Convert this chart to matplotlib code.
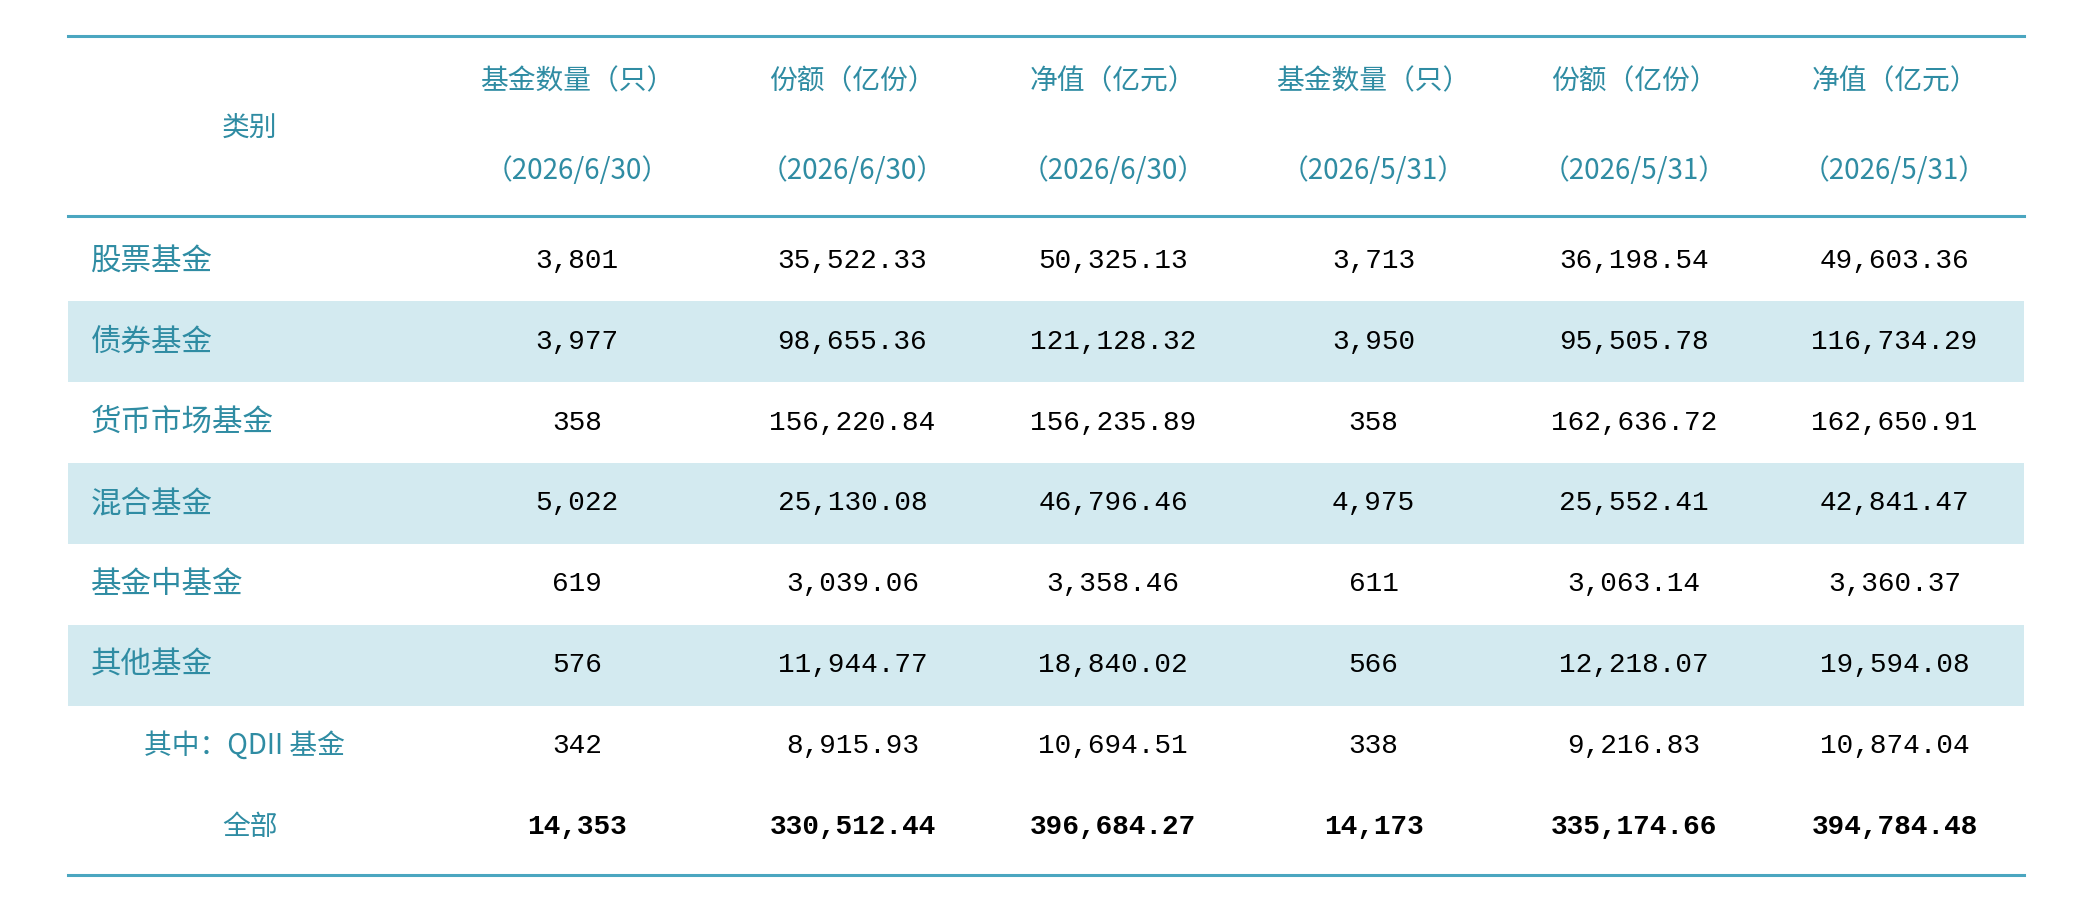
import matplotlib
matplotlib.use("Agg")
import matplotlib.pyplot as plt
from matplotlib.patches import Rectangle

plt.rcParams['font.family'] = ['Noto Sans CJK SC', 'DejaVu Sans']

headers_top = ["基金数量（只）", "份额（亿份）", "净值（亿元）", "基金数量（只）", "份额（亿份）", "净值（亿元）"]
headers_date = ["（2026/6/30）", "（2026/6/30）", "（2026/6/30）", "（2026/5/31）", "（2026/5/31）", "（2026/5/31）"]
categories = ["股票基金", "债券基金", "货币市场基金", "混合基金", "基金中基金", "其他基金", "其中：QDII 基金", "全部"]
count_jun = ["3,801", "3,977", "358", "5,022", "619", "576", "342", "14,353"]
share_jun = ["35,522.33", "98,655.36", "156,220.84", "25,130.08", "3,039.06", "11,944.77", "8,915.93", "330,512.44"]
nav_jun = ["50,325.13", "121,128.32", "156,235.89", "46,796.46", "3,358.46", "18,840.02", "10,694.51", "396,684.27"]
count_may = ["3,713", "3,950", "358", "4,975", "611", "566", "338", "14,173"]
share_may = ["36,198.54", "95,505.78", "162,636.72", "25,552.41", "3,063.14", "12,218.07", "9,216.83", "335,174.66"]
nav_may = ["49,603.36", "116,734.29", "162,650.91", "42,841.47", "3,360.37", "19,594.08", "10,874.04", "394,784.48"]

TEAL = "#2f8ca3"
LINE = "#4ba6c0"
SHADE = "#d3eaf0"

fig = plt.figure(figsize=(20.95, 9.10), dpi=100)
ax = fig.add_axes([0, 0, 1, 1])
ax.set_xlim(0, 1568)
ax.set_ylim(681, 0)
ax.axis('off')

x0, x1 = 51, 1515
col_x = [432, 638, 833, 1028, 1223, 1418]
row_h = 60.5
row_top0 = 165
hfs = 20
cfs = 22
nfs = 20
MONO = ['Liberation Mono', 'DejaVu Sans Mono']

ax.text(187, 96, "类别", ha='center', va='center', color=TEAL, fontsize=hfs)
for cx, h1, h2 in zip(col_x, headers_top, headers_date):
    ax.text(cx, 61, h1, ha='center', va='center', color=TEAL, fontsize=hfs)
    ax.text(cx, 128, h2, ha='center', va='center', color=TEAL, fontsize=hfs)

cols = [count_jun, share_jun, nav_jun, count_may, share_may, nav_may]
for i, cat in enumerate(categories):
    top = row_top0 + i * row_h
    cy = top + row_h / 2
    if i in (1, 3, 5):
        ax.add_patch(Rectangle((x0, top), x1 - x0, row_h, color=SHADE, lw=0))
    if i == 6:
        ax.text(108, cy, cat, ha='left', va='center', color=TEAL, fontsize=hfs)
    elif i == 7:
        ax.text(187, cy, cat, ha='center', va='center', color=TEAL, fontsize=hfs)
    else:
        ax.text(68, cy, cat, ha='left', va='center', color=TEAL, fontsize=cfs)
    for cx, col in zip(col_x, cols):
        ax.text(cx, cy, col[i], ha='center', va='center', color='black', fontsize=nfs,
                family=MONO, fontweight='bold' if i == 7 else 'normal')

for y in (27, 162, 655):
    ax.plot([x0, x1], [y, y], color=LINE, lw=2.2)

fig.savefig("out.png", dpi=100)
